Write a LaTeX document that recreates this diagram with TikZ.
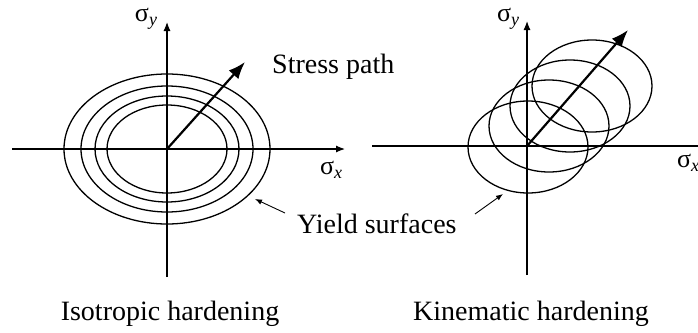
\documentclass[tikz,border=0pt]{standalone}
\usepackage{fontspec}
\setmainfont{Liberation Serif}
\usetikzlibrary{arrows.meta}
\newcommand\sigsub[1]{{\fontsize{26}{26}\selectfont σ\raisebox{-0.35ex}{\fontsize{18}{18}\selectfont\itshape #1}}}
\tikzset{
  axisline/.style={line width=1.2pt,-{Latex[length=9pt,width=7pt]}},
  yieldcurve/.style={line width=1.3pt},
  pathline/.style={line width=2.2pt,-{Latex[length=17pt,width=13pt]}},
  pointer/.style={line width=0.9pt,-{Latex[length=7pt,width=5.5pt]}},
  lbl/.style={inner sep=0pt,font=\fontsize{28}{30}\selectfont},
  axlbl/.style={inner sep=0pt}
}
\begin{document}
\begin{tikzpicture}[x=1pt,y=-1pt]
\useasboundingbox (0,0) rectangle (698,332);
% ---- left: isotropic
\coordinate (oL) at (167,149);
\coordinate (hL0) at (12,149);
\coordinate (hL1) at (345,149);
\coordinate (vL0) at (167,277);
\coordinate (vL1) at (167,22);
\coordinate (pL) at (245,62);
\draw[axisline] (hL0) -- (hL1);
\draw[axisline] (vL0) -- (vL1);
\draw[yieldcurve] (oL) ellipse [x radius=103, y radius=75];
\draw[yieldcurve] (oL) ellipse [x radius=86, y radius=63];
\draw[yieldcurve] (oL) ellipse [x radius=72, y radius=53];
\draw[yieldcurve] (oL) ellipse [x radius=60, y radius=44];
\draw[pathline] (oL) -- (pL);
\node[axlbl] (syL) at (146,19) {\sigsub{y}};
\node[axlbl] (sxL) at (331,170) {\sigsub{x}};
% ---- right: kinematic
\coordinate (oR) at (527,146);
\coordinate (hR0) at (372,146);
\coordinate (hR1) at (708,146);
\coordinate (vR0) at (527,275);
\coordinate (vR1) at (527,21);
\coordinate (pR) at (628,30);
\draw[axisline] (hR0) -- (hR1);
\draw[axisline] (vR0) -- (vR1);
\coordinate (c1) at (528,147);
\coordinate (c2) at (549,126);
\coordinate (c3) at (570,106);
\coordinate (c4) at (592,86);
\foreach \c in {c1,c2,c3,c4}
  \draw[yieldcurve] (\c) ellipse [x radius=60, y radius=46];
\draw[pathline] (oR) -- (pR);
\node[axlbl] (syR) at (508,19) {\sigsub{y}};
\node[axlbl,anchor=west] (sxR) at (677,163) {\sigsub{x}};
% ---- labels
\node[lbl,anchor=base west] (sp) at (272,73) {Stress path};
\node[lbl,anchor=base west] (ys) at (297,233) {Yield surfaces};
\node[lbl,anchor=base] (iso) at (170,320) {Isotropic hardening};
\node[lbl,anchor=base] (kin) at (531,320) {Kinematic hardening};
\coordinate (aL0) at (285,213);
\coordinate (aL1) at (255,199);
\coordinate (aR0) at (475,214);
\coordinate (aR1) at (503,194);
\draw[pointer] (aL0) -- (aL1);
\draw[pointer] (aR0) -- (aR1);
\end{tikzpicture}
\end{document}
